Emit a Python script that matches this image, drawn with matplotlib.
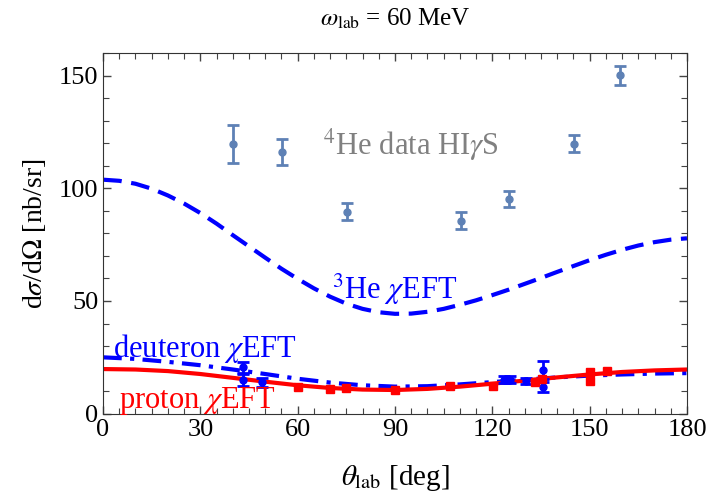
import matplotlib.pyplot as plt
from matplotlib.ticker import MultipleLocator

# ==========================
# Data
# ==========================

theta_he3 = [0, 5, 10, 15, 20, 25, 30, 35, 40, 45, 50, 55, 60, 65, 70, 75, 80, 85, 90,
             95, 100, 105, 110, 115, 120, 125, 130, 135, 140, 145, 150, 155, 160,
             165, 170, 175, 180]
he3_chieft = [103.8, 103.3, 102.0, 99.8, 96.8, 93.2, 89.0, 84.3, 79.2, 74.2, 69.2,
              64.3, 59.8, 55.6, 51.9, 48.8, 46.5, 45.0, 44.3, 44.4, 45.2, 46.5,
              48.3, 50.3, 52.6, 55.0, 57.6, 60.2, 62.9, 65.5, 68.1, 70.5, 72.7,
              74.6, 76.1, 77.2, 77.8]

theta_curve = [0, 10, 20, 30, 40, 50, 60, 70, 80, 90,
               100, 110, 120, 130, 140, 150, 160, 170, 180]

deuteron_chieft = [25.0, 24.3, 23.0, 21.5, 19.6, 17.6, 15.5, 13.8, 12.6, 12.0,
                   12.2, 13.0, 14.0, 15.1, 16.1, 16.9, 17.4, 17.8, 18.0]

proton_chieft = [19.8, 19.6, 18.9, 17.6, 15.9, 14.2, 12.6, 11.4, 10.7, 10.5,
                 11.0, 12.0, 13.3, 14.7, 16.1, 17.4, 18.5, 19.2, 19.6]

he4_theta = [40.0, 55.1, 75.1, 110.3, 125.2, 145.2, 159.2]
he4_val = [119.7, 116.0, 89.6, 85.6, 95.3, 119.7, 150.1]
he4_err = [8.3, 5.7, 3.8, 3.7, 3.4, 3.7, 4.1]

d_theta = [43.0, 43.0, 49.0, 123.5, 125.5, 130.5, 135.5, 135.5]
d_val = [20.5, 15.0, 14.0, 15.0, 15.0, 14.5, 19.5, 12.0]
d_err = [2.5, 2.5, 2.0, 1.5, 1.5, 1.5, 4.0, 2.2]

p_theta = [60.0, 70.0, 75.0, 90.0, 107.0, 120.3, 133.0, 135.2, 150.0, 150.0, 155.3]
p_val = [12.0, 10.8, 11.3, 10.6, 12.3, 12.4, 14.2, 15.6, 18.6, 14.4, 19.0]
p_err = [1.0, 0.8, 0.8, 0.8, 0.8, 0.8, 1.0, 1.2, 1.2, 1.0, 1.0]

# ==========================
# Style
# ==========================

plt.rcParams["font.family"] = ["Liberation Serif", "DejaVu Serif"]
plt.rcParams["mathtext.fontset"] = "stix"

blue = "#0000ff"
red = "#ff0000"
data_col = "#5e81b5"

fig = plt.figure(figsize=(7.1, 4.98), dpi=100)
ax = fig.add_axes([0.1451, 0.1693, 0.8225, 0.7243])

# ==========================
# Curves
# ==========================

ax.plot(theta_he3, he3_chieft, color=blue, lw=3.0, dashes=(4.5, 2.3))
ax.plot(theta_curve, deuteron_chieft, color=blue, lw=3.0,
        dashes=(4.5, 2.0, 1.0, 2.0))
ax.plot(theta_curve, proton_chieft, color=red, lw=3.0)

# ==========================
# Data points
# ==========================

ax.errorbar(he4_theta, he4_val, yerr=he4_err, fmt="o", color=data_col,
            ms=5, elinewidth=2, capsize=4, capthick=2)
ax.errorbar(d_theta, d_val, yerr=d_err, fmt="o", color=blue,
            ms=5, elinewidth=2, capsize=4, capthick=2)
ax.errorbar(p_theta, p_val, yerr=p_err, fmt="s", color=red,
            ms=6, elinewidth=2, capsize=3, capthick=2)

# ==========================
# Labels
# ==========================

ax.text(95, 119.3, r"$^4$He data HI$\gamma$S", color="#808080",
        fontsize=22, ha="center", va="center")
ax.text(90, 55, r"$^3$He $\chi$EFT", color=blue,
        fontsize=22, ha="center", va="center")
ax.text(3.0, 28.8, r"deuteron $\chi$EFT", color=blue,
        fontsize=22, ha="left", va="center")
ax.text(5.0, 5.8, r"proton $\chi$EFT", color=red,
        fontsize=22, ha="left", va="center")

ax.set_xlim(0, 180)
ax.set_ylim(0, 160)
ax.xaxis.set_major_locator(MultipleLocator(30))
ax.xaxis.set_minor_locator(MultipleLocator(5))
ax.yaxis.set_major_locator(MultipleLocator(50))
ax.yaxis.set_minor_locator(MultipleLocator(10))
ax.tick_params(which="both", direction="in", top=True, right=True,
               labelsize=19, color="#444444")
ax.tick_params(which="major", length=6, width=1)
ax.tick_params(which="minor", length=4, width=0.8)
for sp in ax.spines.values():
    sp.set_color("#333333")

ax.set_xlabel(r"$\theta_{\rm lab}$ [deg]", fontsize=21, labelpad=16)
ax.set_ylabel(r"d$\sigma$/d$\Omega$ [nb/sr]", fontsize=20, labelpad=8)
ax.set_title(r"$\omega_{\rm lab}$ = 60 MeV", fontsize=18, pad=20)

fig.savefig("out.png", dpi=100)
